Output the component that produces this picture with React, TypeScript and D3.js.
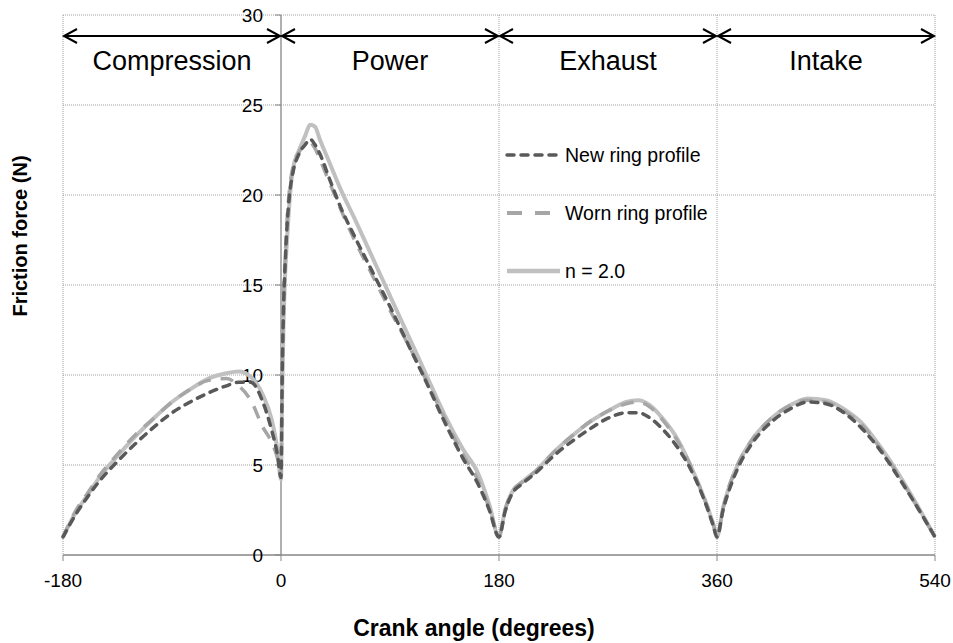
import React from "react";
import * as d3 from "d3";

const angles = [
  -180, -170, -160, -150, -135, -120, -105, -90, -75, -60, -45, -35, -25, -15, -8, -3,
  0, 1, 2, 3.3, 5, 7, 10, 15, 20, 24, 28, 32, 40, 50, 60, 75, 90, 105, 120, 135, 150, 163, 172, 180,
  185, 190, 200, 211, 225, 240, 255, 270, 285, 295, 305, 315, 325, 338, 345, 352, 357,
  360, 365, 370, 377, 390, 405, 420, 435, 450, 465, 480, 495, 510, 525, 540,
];

const newRing = [
  1.0, 2.2, 3.2, 4.1, 5.2, 6.2, 7.1, 7.9, 8.5, 9.0, 9.4, 9.6, 9.6, 8.5, 7.0, 5.6,
  4.3, 10, 13.5, 16, 18.3, 20.0, 21.3, 22.3, 22.8, 23.1, 22.8, 22.3, 20.9, 19.2, 17.8, 15.8, 13.8, 11.7, 9.6, 7.4, 5.4, 3.9, 2.5, 1.0,
  2.4, 3.3, 4.0, 4.6, 5.5, 6.3, 7.0, 7.6, 7.9, 7.9, 7.6, 7.0, 6.2, 4.8, 3.8, 2.6, 1.6,
  1.0, 2.5, 3.6, 4.8, 6.3, 7.4, 8.1, 8.5, 8.4, 7.9, 7.0, 5.8, 4.3, 2.7, 1.0,
];

const wornRing = [
  1.0, 2.4, 3.4, 4.4, 5.6, 6.7, 7.6, 8.5, 9.2, 9.7, 9.8, 9.4, 8.6, 7.1, 6.3, 5.4,
  4.5, 10.5, 14, 16.3, 18.6, 20.3, 21.6, 22.4, 22.8, 22.9, 22.6, 22.0, 20.7, 19.1, 17.6, 15.6, 13.6, 11.7, 9.7, 7.6, 5.6, 4.1, 2.6, 1.1,
  2.5, 3.4, 4.1, 4.7, 5.7, 6.6, 7.4, 8.0, 8.4, 8.5, 8.2, 7.5, 6.6, 5.0, 3.9, 2.7, 1.7,
  1.0, 2.6, 3.8, 5.0, 6.5, 7.6, 8.3, 8.6, 8.5, 8.0, 7.2, 5.9, 4.4, 2.7, 1.0,
];

const nTwo = [
  1.0, 2.3, 3.3, 4.3, 5.5, 6.6, 7.6, 8.5, 9.2, 9.8, 10.1, 10.2, 9.9, 8.9, 7.6, 5.9,
  4.2, 9, 12.5, 15.4, 17.5, 19.6, 21.5, 22.5, 23.3, 23.9, 23.8, 23.1, 21.8, 20.2, 18.8, 16.6, 14.4, 12.2, 10.0, 7.8, 5.9, 4.5, 2.8, 1.0,
  2.5, 3.4, 4.1, 4.7, 5.7, 6.6, 7.4, 8.0, 8.5, 8.6, 8.3, 7.6, 6.7, 5.0, 3.9, 2.7, 1.7,
  1.0, 2.6, 3.8, 5.0, 6.5, 7.6, 8.3, 8.7, 8.6, 8.1, 7.3, 6.0, 4.5, 2.8, 1.0,
];

const xTicks = [-180, 0, 180, 360, 540];
const yTicks = [0, 5, 10, 15, 20, 25, 30];
const phases = ["Compression", "Power", "Exhaust", "Intake"];
const phaseBounds = [-180, 0, 180, 360, 540];
const seriesNames = ["New ring profile", "Worn ring profile", "n = 2.0"];

export default function App() {
  const W = 953;
  const H = 643;
  const x = d3.scaleLinear().domain([-180, 540]).range([63, 935]);
  const y = d3.scaleLinear().domain([0, 30]).range([555, 15]);
  const font = "'Liberation Sans', Arial, sans-serif";

  const mk = (vals: number[]) =>
    d3
      .line<number>()
      .x((_, i) => x(angles[i]))
      .y((v) => y(v))
      .curve(d3.curveMonotoneX)(vals) as string;

  const series = [
    { name: seriesNames[2], vals: nTwo, color: "#c0c0c0", w: 4, dash: undefined as string | undefined, cap: "butt" },
    { name: seriesNames[1], vals: wornRing, color: "#a6a6a6", w: 3.5, dash: "13,10", cap: "butt" },
    { name: seriesNames[0], vals: newRing, color: "#595959", w: 3.5, dash: "7,7", cap: "round" },
  ];

  const legend = [
    { name: seriesNames[0], color: "#595959", w: 3.5, dash: "7,7", cap: "round", ly: 155 },
    { name: seriesNames[1], color: "#a6a6a6", w: 4, dash: "15,13", cap: "butt", ly: 213 },
    { name: seriesNames[2], color: "#c0c0c0", w: 4.5, dash: undefined as string | undefined, cap: "butt", ly: 271 },
  ];

  const x0 = x(0);

  return (
    <svg width={W} height={H} style={{ position: "absolute", left: 0, top: 0, background: "#fff" }}>
      <rect x={0} y={0} width={W} height={H} fill="#fff" />
      {yTicks.filter((t) => t > 0).map((t) => (
        <line key={"g" + t} x1={x(-180)} x2={x(540)} y1={y(t)} y2={y(t)} stroke="#a0a0a0" strokeWidth={1} strokeDasharray="1,1" />
      ))}
      {[-180, 180, 360, 540].map((t) => (
        <line key={"v" + t} x1={x(t)} x2={x(t)} y1={y(30)} y2={y(0)} stroke="#a0a0a0" strokeWidth={1} strokeDasharray="1,1" />
      ))}
      <line x1={x(-180)} x2={x(540)} y1={y(0)} y2={y(0)} stroke="#868686" strokeWidth={1.3} />
      <line x1={x0} x2={x0} y1={y(30)} y2={y(0)} stroke="#868686" strokeWidth={1.3} />
      {xTicks.map((t) => (
        <line key={"xt" + t} x1={x(t)} x2={x(t)} y1={y(0)} y2={y(0) + 6} stroke="#868686" strokeWidth={1} />
      ))}
      {yTicks.map((t) => (
        <line key={"yt" + t} x1={x0 - 6} x2={x0} y1={y(t)} y2={y(t)} stroke="#868686" strokeWidth={1} />
      ))}
      {xTicks.map((t) => (
        <text key={"xl" + t} x={x(t)} y={587} textAnchor="middle" fontFamily={font} fontSize={19} fill="#000">
          {t}
        </text>
      ))}
      {yTicks.map((t) => (
        <text key={"yl" + t} x={263} y={y(t) + 7} textAnchor="end" fontFamily={font} fontSize={19} fill="#000">
          {t}
        </text>
      ))}
      {series.map((s) => (
        <path
          key={s.name}
          d={mk(s.vals)}
          fill="none"
          stroke={s.color}
          strokeWidth={s.w}
          strokeDasharray={s.dash}
          strokeLinecap={s.cap as any}
          strokeLinejoin="round"
        />
      ))}
      {phases.map((p, i) => {
        const a = x(phaseBounds[i]);
        const b = x(phaseBounds[i + 1]);
        const yy = 36;
        return (
          <g key={p}>
            <line x1={a + 1} x2={b - 1} y1={yy} y2={yy} stroke="#000" strokeWidth={2} />
            <path d={`M${a + 14},${yy - 7} L${a + 1},${yy} L${a + 14},${yy + 7}`} fill="none" stroke="#000" strokeWidth={2} />
            <path d={`M${b - 14},${yy - 7} L${b - 1},${yy} L${b - 14},${yy + 7}`} fill="none" stroke="#000" strokeWidth={2} />
            <text x={(a + b) / 2} y={70} textAnchor="middle" fontFamily={font} fontSize={27} fill="#000">
              {p}
            </text>
          </g>
        );
      })}
      {legend.map((l) => (
        <g key={"lg" + l.name}>
          <line x1={507} x2={560} y1={l.ly} y2={l.ly} stroke={l.color} strokeWidth={l.w} strokeDasharray={l.dash} strokeLinecap={l.cap as any} />
          <text x={565} y={l.ly + 7} fontFamily={font} fontSize={19.5} fill="#000">
            {l.name}
          </text>
        </g>
      ))}
      <text x={474} y={636} textAnchor="middle" fontFamily={font} fontSize={23} fontWeight="bold" fill="#000">
        Crank angle (degrees)
      </text>
      <text
        transform={`translate(27,236) rotate(-90)`}
        textAnchor="middle"
        fontFamily={font}
        fontSize={20}
        fontWeight="bold"
        fill="#000"
      >
        Friction force (N)
      </text>
    </svg>
  );
}
